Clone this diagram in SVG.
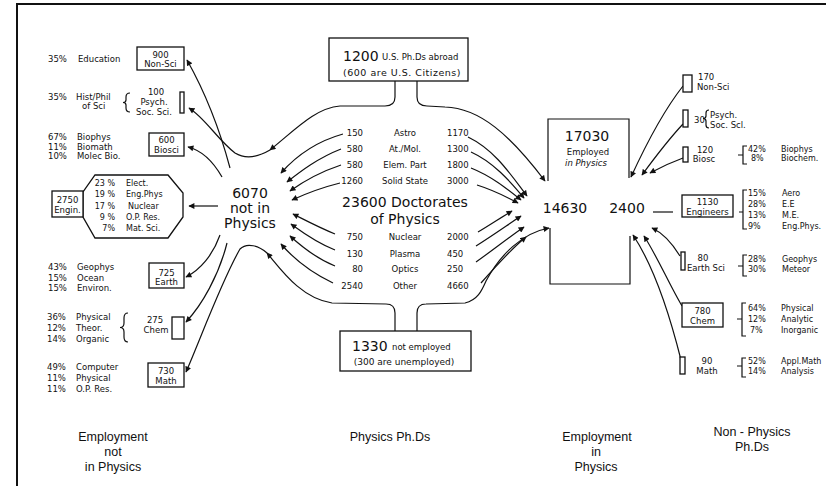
<svg xmlns="http://www.w3.org/2000/svg" width="826" height="486" viewBox="0 0 826 486">
<defs>
<marker id="ah" viewBox="0 0 10 10" refX="9" refY="5" markerWidth="7" markerHeight="6" markerUnits="userSpaceOnUse" orient="auto"><path d="M0,0 L10,5 L0,10 z" fill="#111"/></marker>
<style>
text{font-family:"DejaVu Sans","Liberation Sans",sans-serif;fill:#111;font-size:8.5px}
.m{text-anchor:middle}
.e{text-anchor:end}
.s{font-size:8px}
.big{font-size:14px}
.h{font-size:14px}
.lab{font-family:"Liberation Sans",Arial,sans-serif;font-size:12.5px;text-anchor:middle}
.ln{fill:none;stroke:#111;stroke-width:1.2}
.ar{fill:none;stroke:#111;stroke-width:1.2;marker-end:url(#ah)}
.bx{fill:#fff;stroke:#111;stroke-width:1.3}
</style>
</defs>
<rect width="826" height="486" fill="#fff"/>
<path d="M17,486 L17,4 L826,4" fill="none" stroke="#111" stroke-width="2"/>

<g id="connectors">
<!-- 6070 to non-physics employment -->
<path class="ar" d="M230,168 Q214,108 187,60"/>
<path class="ar" d="M222,177 C214,163 204,151 188,147"/>
<path class="ar" d="M218,206 L189,206"/>
<path class="ar" d="M220,235 C213,255 200,270 186,277"/>
<path class="ar" d="M227,243 C219,275 202,305 186,322"/>
<!-- boundaries -->
<path class="ar" d="M395,81 L395,97 Q395,106 385,106 L340,106 C315,108 295,130 270,150"/>
<path class="ar" d="M270,150 C258,157 245,159 235,153 C218,140 205,118 189,108"/>
<path class="ar" d="M395,331 L395,313 Q395,304 386,304 L332,303 C300,298 280,268 267,253"/>
<path class="ar" d="M267,253 C259,246 247,242 240,249 C222,280 200,340 186,372"/>
<path class="ar" d="M417,81 L417,97 Q417,106 427,106 L445,107 C480,108 510,135 545,181"/>
<path class="ar" d="M417,331 L417,313 Q417,304 426,304 L465,303 C478,300 482,290 486,281 C500,255 522,233 549,228"/>
<!-- field to 6070 -->
<path class="ar" d="M343,134 C318,141 296,156 281,173"/>
<path class="ar" d="M341,149 C318,158 301,171 287,182"/>
<path class="ar" d="M341,165 C320,172 304,181 290,191"/>
<path class="ar" d="M340,183 C320,188 305,194 292,200"/>
<path class="ar" d="M335,234 C318,227 305,220 293,214"/>
<path class="ar" d="M335,250 C315,242 302,232 291,224"/>
<path class="ar" d="M335,266 C315,258 301,246 290,236"/>
<path class="ar" d="M333,283 C310,272 293,258 281,244"/>
<!-- field to 14630 -->
<path class="ar" d="M468,137 C495,150 511,175 527,196"/>
<path class="ar" d="M471,152 C493,162 509,180 524,198"/>
<path class="ar" d="M471,168 C491,176 506,188 521,200"/>
<path class="ar" d="M477,185 C493,190 505,196 518,203"/>
<path class="ar" d="M478,232 C490,225 500,218 512,211"/>
<path class="ar" d="M476,246 C492,236 506,226 521,216"/>
<path class="ar" d="M476,262 C493,250 508,238 524,227"/>
<path class="ar" d="M481,283 C496,266 511,249 526,237"/>
<!-- non-physics PhDs to 2400 -->
<path class="ar" d="M683,86 C668,105 648,140 631,177"/>
<path class="ar" d="M683,124 C668,140 653,160 642,175"/>
<path class="ar" d="M683,158 C672,162 661,167 650,173"/>
<path class="ln" d="M673,212 L653,212"/>
<path class="ar" d="M680,256 C672,243 663,233 652,228"/>
<path class="ar" d="M682,306 C670,286 657,256 644,236"/>
<path class="ar" d="M681,360 C671,320 655,268 633,235"/>
</g>

<g id="abroad">
<rect class="bx" x="329" y="38" width="139" height="43"/>
<text class="big" x="343" y="61">1200</text>
<text x="382" y="60">U.S. Ph.Ds abroad</text>
<text class="m" x="402" y="76" style="font-size:9.5px;letter-spacing:0.5px">(600 are U.S. Citizens)</text>
</g>

<g id="notemployed">
<rect class="bx" x="340" y="331" width="131" height="40"/>
<text class="big" x="352" y="351">1330</text>
<text x="392" y="350">not employed</text>
<text class="m" x="404" y="365" style="font-size:9px">(300 are unemployed)</text>
</g>

<g id="doctorates">
<text class="e" x="363" y="136">150</text><text class="m" x="405" y="136">Astro</text><text x="447" y="136">1170</text>
<text class="e" x="363" y="152">580</text><text class="m" x="405" y="152">At./Mol.</text><text x="447" y="152">1300</text>
<text class="e" x="363" y="168">580</text><text class="m" x="405" y="168">Elem. Part</text><text x="447" y="168">1800</text>
<text class="e" x="363" y="184">1260</text><text class="m" x="405" y="184">Solid State</text><text x="447" y="184">3000</text>
<text class="m big" x="405" y="207">23600 Doctorates</text>
<text class="m big" x="405" y="224">of Physics</text>
<text class="e" x="363" y="240">750</text><text class="m" x="405" y="240">Nuclear</text><text x="447" y="240">2000</text>
<text class="e" x="363" y="257">130</text><text class="m" x="405" y="257">Plasma</text><text x="447" y="257">450</text>
<text class="e" x="363" y="272">80</text><text class="m" x="405" y="272">Optics</text><text x="447" y="272">250</text>
<text class="e" x="363" y="289">2540</text><text class="m" x="405" y="289">Other</text><text x="447" y="289">4660</text>
</g>

<g id="notinphysics">
<text class="m h" x="250" y="198">6070</text>
<text class="m h" x="250" y="213">not in</text>
<text class="m h" x="250" y="228">Physics</text>
</g>

<g id="employedinphysics">
<path class="ln" d="M548,181 L548,119 L629,119 L629,178"/>
<path class="ln" d="M550,228 L550,284 L630,284 L630,236"/>
<text class="m big" x="587" y="141">17030</text>
<text class="m" x="588" y="155">Employed</text>
<text class="m" x="586" y="166" style="font-style:italic">in Physics</text>
<text class="m big" x="565" y="213">14630</text>
<text class="m big" x="627" y="213">2400</text>
</g>

<g id="nonsci-left">
<text x="48" y="62">35%</text><text x="78" y="62">Education</text>
<rect class="bx" x="137" y="47" width="47" height="23"/>
<text class="m" x="160.5" y="58">900</text>
<text class="m" x="160.5" y="67">Non-Sci</text>
</g>

<g id="psych-left">
<text x="48" y="100">35%</text><text x="76" y="100">Hist/Phil</text><text x="82" y="109">of Sci</text>
<path class="ln" d="M130,93 Q126,93 126,97 L126,100 Q126,102.5 123,102.5 Q126,102.5 126,105 L126,108 Q126,112 130,112"/>
<text class="m" x="156" y="95">100</text>
<text class="m" x="154" y="105">Psych.</text>
<text class="m" x="154" y="115">Soc. Sci.</text>
<rect class="bx" x="180" y="92" width="4" height="21"/>
</g>

<g id="biosci-left">
<text x="48" y="140">67%</text><text x="77" y="140">Biophys</text>
<text x="48" y="150">11%</text><text x="77" y="150">Biomath</text>
<text x="48" y="159">10%</text><text x="77" y="159">Molec Bio.</text>
<rect class="bx" x="149" y="133" width="35" height="23"/>
<text class="m" x="166.5" y="143">600</text>
<text class="m" x="166.5" y="153">Biosci</text>
</g>

<g id="engin-left">
<polygon class="bx" points="95,175 168,175 183,193 183,217 168,238 95,238 83,217 83,192"/>
<rect class="bx" x="52" y="191" width="31" height="26"/>
<text class="m" x="67.5" y="203">2750</text>
<text class="m" x="67.5" y="213">Engin.</text>
<text class="e s" x="115" y="186">23 %</text><text class="s" x="126" y="186">Elect.</text>
<text class="e s" x="115" y="197">19 %</text><text class="s" x="126" y="197">Eng.Phys</text>
<text class="e s" x="115" y="209">17 %</text><text class="s" x="128" y="209">Nuclear</text>
<text class="e s" x="115" y="220">9 %</text><text class="s" x="126" y="220">O.P. Res.</text>
<text class="e s" x="115" y="231">7%</text><text class="s" x="126" y="231">Mat. Sci.</text>
</g>

<g id="earth-left">
<text x="48" y="270">43%</text><text x="77" y="270">Geophys</text>
<text x="48" y="281">15%</text><text x="77" y="281">Ocean</text>
<text x="48" y="291">15%</text><text x="77" y="291">Environ.</text>
<rect class="bx" x="149" y="263" width="35" height="25"/>
<text class="m" x="166.5" y="276">725</text>
<text class="m" x="166.5" y="285">Earth</text>
</g>

<g id="chem-left">
<text x="47" y="320">36%</text><text x="76" y="320">Physical</text>
<text x="47" y="331">12%</text><text x="76" y="331">Theor.</text>
<text x="47" y="342">14%</text><text x="76" y="342">Organic</text>
<path class="ln" d="M128,313 Q124,313 124,318 L124,323 Q124,327.5 120,327.5 Q124,327.5 124,332 L124,337 Q124,342 128,342"/>
<text class="m" x="155" y="323">275</text>
<text class="m" x="156" y="333">Chem</text>
<rect class="bx" x="172" y="317" width="12" height="22"/>
</g>

<g id="math-left">
<text x="47" y="370">49%</text><text x="76" y="370">Computer</text>
<text x="47" y="381">11%</text><text x="76" y="381">Physical</text>
<text x="47" y="392">11%</text><text x="76" y="392">O.P. Res.</text>
<rect class="bx" x="148" y="363" width="36" height="24"/>
<text class="m" x="166" y="374">730</text>
<text class="m" x="166" y="384">Math</text>
</g>

<g id="nonsci-right">
<rect class="bx" x="683" y="75" width="9" height="17"/>
<text x="698" y="80">170</text>
<text x="697" y="90">Non-Sci</text>
</g>

<g id="psych-right">
<rect class="bx" x="683" y="110" width="5" height="17"/>
<text x="694" y="123">30</text>
<path class="ln" d="M709,110 Q706,110 706,113 L706,116 Q706,118.5 703,118.5 Q706,118.5 706,121 L706,125 Q706,128 709,128"/>
<text x="710" y="118">Psych.</text>
<text x="710" y="128">Soc. Scl.</text>
</g>

<g id="biosc-right">
<rect class="bx" x="683" y="147" width="5" height="15"/>
<text class="m" x="705" y="153">120</text>
<text class="m" x="704" y="162">Biosc</text>
<path class="ln" d="M747,146 L743,146 L743,164 L747,164 M743,155 L738,155"/>
<text class="s" x="748" y="152">42%</text><text class="s" x="781" y="152">Biophys</text>
<text class="s" x="751" y="161">8%</text><text class="s" x="781" y="161">Biochem.</text>
</g>

<g id="engineers-right">
<rect class="bx" x="682" y="195" width="51" height="22"/>
<text class="m" x="707.5" y="205">1130</text>
<text class="m" x="707.5" y="215">Engineers</text>
<path class="ln" d="M747,190 L743,190 L743,229 L747,229 M743,212 L739,212"/>
<text class="s" x="748" y="196">15%</text><text class="s" x="782" y="196">Aero</text>
<text class="s" x="748" y="207">28%</text><text class="s" x="782" y="207">E.E</text>
<text class="s" x="748" y="218">13%</text><text class="s" x="782" y="218">M.E.</text>
<text class="s" x="748" y="229">9%</text><text class="s" x="782" y="229">Eng.Phys.</text>
</g>

<g id="earth-right">
<rect class="bx" x="681" y="252" width="4" height="18"/>
<text class="m" x="703" y="261">80</text>
<text x="687" y="271">Earth Sci</text>
<path class="ln" d="M747,255 L743,255 L743,276 L747,276 M743,266 L738,266"/>
<text class="s" x="748" y="262">28%</text><text class="s" x="782" y="262">Geophys</text>
<text class="s" x="748" y="272">30%</text><text class="s" x="782" y="272">Meteor</text>
</g>

<g id="chem-right">
<rect class="bx" x="682" y="303" width="41" height="24"/>
<text class="m" x="702.5" y="314">780</text>
<text class="m" x="702.5" y="324">Chem</text>
<path class="ln" d="M746,303 L742,303 L742,336 L746,336 M742,319 L737,319"/>
<text class="s" x="748" y="311">64%</text><text class="s" x="781" y="311">Physical</text>
<text class="s" x="748" y="322">12%</text><text class="s" x="781" y="322">Analytic</text>
<text class="s" x="750" y="333">7%</text><text class="s" x="781" y="333">Inorganic</text>
</g>

<g id="math-right">
<rect class="bx" x="680" y="357" width="5" height="17"/>
<text class="m" x="707" y="364">90</text>
<text class="m" x="707" y="374">Math</text>
<path class="ln" d="M746,358 L742,358 L742,377 L746,377 M742,366 L737,366"/>
<text class="s" x="748" y="364">52%</text><text class="s" x="781" y="364">Appl.Math</text>
<text class="s" x="748" y="374">14%</text><text class="s" x="781" y="374">Analysis</text>
</g>

<g id="captions">
<text class="lab" x="113" y="441">Employment</text>
<text class="lab" x="113" y="456">not</text>
<text class="lab" x="113" y="471">in Physics</text>
<text class="lab" x="390" y="441">Physics  Ph.Ds</text>
<text class="lab" x="597" y="441">Employment</text>
<text class="lab" x="596" y="456">in</text>
<text class="lab" x="596" y="471">Physics</text>
<text class="lab" x="752" y="436">Non - Physics</text>
<text class="lab" x="752" y="451">Ph.Ds</text>
</g>
</svg>
